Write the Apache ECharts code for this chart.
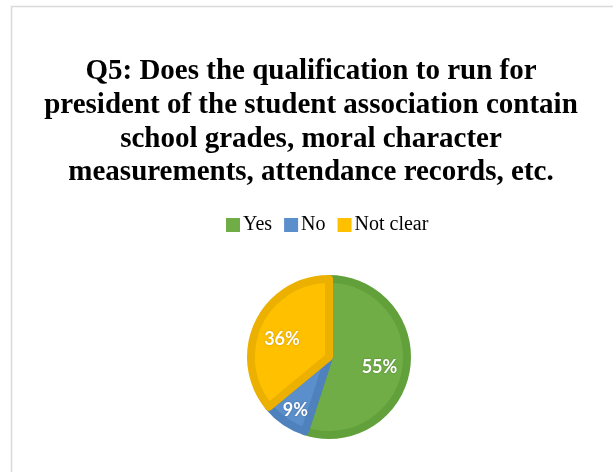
<!DOCTYPE html>
<html>
<head>
<meta charset="utf-8">
<script src="https://cdn.jsdelivr.net/npm/echarts@6/dist/echarts.min.js"></script>
<style>
  html, body { margin: 0; padding: 0; background: #fff; }
  #chart { width: 613px; height: 472px; }
</style>
</head>
<body>
<div id="chart"></div>
<script>
// Answers and their share of respondents (%)
const categories = ['Yes', 'No', 'Not clear'];
const shares = [55, 9, 36];

const titleText = 'Q5: Does the qualification to run for\npresident of the student association contain\nschool grades, moral character\nmeasurements, attendance records, etc.';

// Slice appearance: fill, darker rim, and label nudge
const sliceStyle = {
  'Yes':       { fill: '#70ad47', rim: '#62a03c', nudge: [9, 4] },
  'No':        { fill: '#5b8fcb', rim: '#4f82bd', nudge: [-10, 18] },
  'Not clear': { fill: '#ffc000', rim: '#ecb000', nudge: [-9, 0] }
};

const pieData = categories.map((name, i) => ({
  name,
  value: shares[i],
  itemStyle: { color: sliceStyle[name].fill, borderColor: sliceStyle[name].rim },
  label: { offset: sliceStyle[name].nudge }
}));

const chart = echarts.init(document.getElementById('chart'), null, { renderer: 'canvas' });
chart.setOption({
  animation: false,
  backgroundColor: '#ffffff',
  graphic: [{
    type: 'rect',
    shape: { x: 11.5, y: 6.5, width: 640, height: 500 },
    style: { fill: 'none', stroke: '#d9d9d9', lineWidth: 1.5 },
    silent: true
  }],
  title: {
    text: titleText,
    left: 306,
    top: 50,
    textAlign: 'center',
    textStyle: {
      fontFamily: '"Liberation Serif", "Times New Roman", serif',
      fontWeight: 'bold',
      fontSize: 29,
      lineHeight: 33.7,
      color: '#000'
    }
  },
  legend: {
    data: categories,
    top: 215,
    left: 226,
    padding: 0,
    itemWidth: 14,
    itemHeight: 14,
    itemGap: 12,
    icon: 'rect',
    itemStyle: { borderWidth: 0 },
    textStyle: {
      fontFamily: '"Liberation Serif", "Times New Roman", serif',
      fontSize: 20,
      color: '#000',
      padding: [0, 0, 0, -2]
    }
  },
  series: [{
    type: 'pie',
    center: [329, 357],
    radius: [0, 78],
    startAngle: 90,
    clockwise: true,
    data: pieData,
    itemStyle: { borderWidth: 8 },
    label: {
      show: true,
      position: 'inside',
      formatter: '{c}%',
      color: '#ffffff',
      fontFamily: 'Lato, "Open Sans", sans-serif',
      fontWeight: 'bold',
      fontSize: 18,
      textShadowColor: 'rgba(0,0,0,0.25)',
      textShadowBlur: 2
    },
    labelLine: { show: false },
    emphasis: { disabled: true }
  }]
});
</script>
</body>
</html>
